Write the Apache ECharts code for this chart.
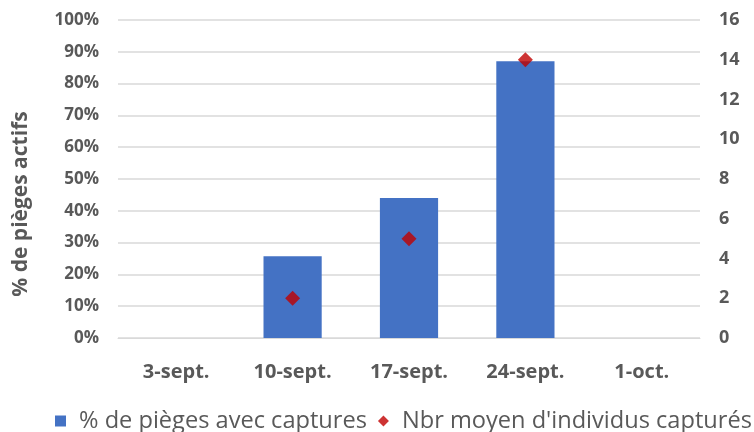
<!DOCTYPE html>
<html><head><meta charset="utf-8">
<script src="https://cdn.jsdelivr.net/npm/echarts@6/dist/echarts.min.js"></script>
<style>html,body{margin:0;padding:0;background:#fff}#c{width:754px;height:432px}</style>
</head><body><div id="c"></div>
<script>
var categories = ['3-sept.', '10-sept.', '17-sept.', '24-sept.', '1-oct.'];
var pctPieges = [null, 25.7, 44, 87, null];
var nbrMoyen = [null, 2, 5, 14, null];
var seriesNames = ['% de pièges avec captures', "Nbr moyen d'individus capturés"];
var yAxisTitle = '% de pièges actifs';

var FONT = '"Open Sans", "DejaVu Sans", sans-serif';
var chart = echarts.init(document.getElementById('c'));
chart.setOption({
  animation: false,
  grid: { left: 118, right: 54, top: 20, bottom: 94, containLabel: false },
  legend: {
    left: 50, top: 404, width: 900, itemWidth: 11, itemHeight: 11, itemGap: 11,
    textStyle: { fontFamily: FONT, fontSize: 23.6, color: '#595959', padding: [0, 0, 0, 8] },
    data: [{ name: seriesNames[0], icon: 'rect' }, { name: seriesNames[1], icon: 'diamond' }]
  },
  graphic: [{
    type: 'text', x: 21, y: 204, rotation: Math.PI / 2,
    style: { text: yAxisTitle, align: 'center', verticalAlign: 'middle',
      font: 'bold 21px "Open Sans", "DejaVu Sans", sans-serif', fill: '#595959' }
  }],
  xAxis: {
    type: 'category', data: categories,
    axisLine: { show: true, lineStyle: { color: '#d9d9d9', width: 1 } },
    axisTick: { show: false },
    axisLabel: { margin: 24, fontFamily: FONT, fontSize: 20, fontWeight: 'bold', color: '#595959' }
  },
  yAxis: [{
    type: 'value', min: 0, max: 100, interval: 10,
    axisLine: { show: false }, axisTick: { show: false },
    axisLabel: { formatter: '{value}%', margin: 19, fontFamily: FONT, fontSize: 17, fontWeight: 'bold', color: '#595959' },
    splitLine: { lineStyle: { color: '#d9d9d9', width: 1.5 } }
  }, {
    type: 'value', min: 0, max: 16, interval: 2, position: 'right',
    axisLine: { show: false }, axisTick: { show: false },
    axisLabel: { margin: 19, fontFamily: FONT, fontSize: 18, fontWeight: 'bold', color: '#595959' },
    splitLine: { show: false }
  }],
  series: [{
    name: seriesNames[0], type: 'bar', data: pctPieges, yAxisIndex: 0,
    barWidth: '50%', itemStyle: { color: '#4472c4' }
  }, {
    name: seriesNames[1], type: 'scatter', data: nbrMoyen, yAxisIndex: 1,
    symbol: 'diamond', symbolSize: 15, itemStyle: { color: '#c00000' }
  }]
});
</script></body></html>
